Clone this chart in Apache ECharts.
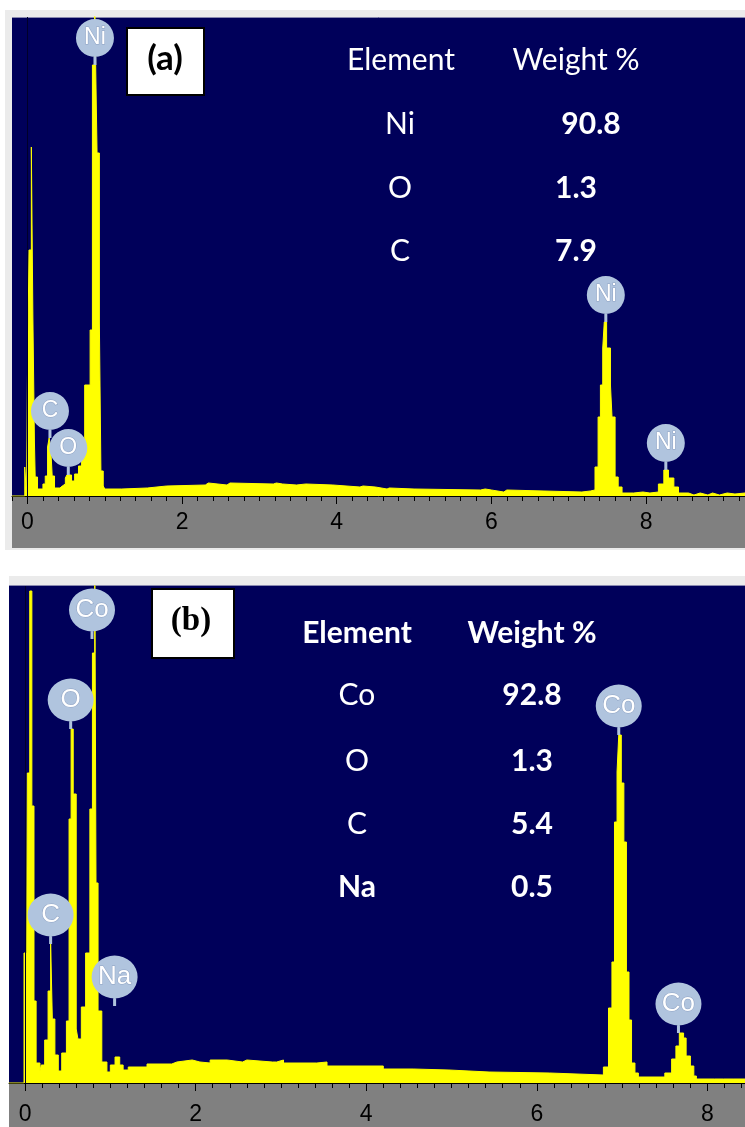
<!DOCTYPE html>
<html>
<head>
<meta charset="utf-8">
<title>EDS spectra</title>
<script src="https://cdn.jsdelivr.net/npm/echarts@6/dist/echarts.min.js"></script>
<style>
  html, body { margin: 0; padding: 0; background: #ffffff; }
  #chart { width: 745px; height: 1127px; }
</style>
</head>
<body>
<div id="chart"></div>
<script>
// ---- (a) Ni sample: spectrum as step bins (bin start energy in keV, counts) ----
const energyA = [-0.20, -0.035, -0.012, 0.00, 0.02, 0.05, 0.07, 0.09, 0.10, 0.13, 0.20, 0.23, 0.26, 0.28, 0.30, 0.32, 0.35, 0.42, 0.45, 0.49, 0.51, 0.57, 0.61, 0.66, 0.70, 0.74, 0.81, 0.84, 0.867, 0.882, 0.90, 0.93, 0.95, 0.98, 1.00, 1.22, 1.55, 1.80, 2.30, 2.34, 2.58, 2.62, 3.18, 3.22, 3.30, 3.48, 3.60, 3.95, 4.30, 4.34, 4.50, 4.65, 4.68, 5.00, 5.86, 5.92, 6.00, 6.16, 6.20, 7.17, 7.28, 7.34, 7.38, 7.41, 7.44, 7.46, 7.49, 7.54, 7.56, 7.60, 7.64, 7.69, 7.84, 7.96, 8.05, 8.16, 8.23, 8.29, 8.36, 8.42, 8.55, 8.62, 8.70, 8.80, 8.86, 8.95, 9.05, 9.15];
const countsA = [0, 29, 0, 118, 246, 349, 179, 54, 19, 7, 12, 20, 49, 58, 49, 20, 8, 10, 12, 18, 21, 15, 22, 30, 40, 111, 166, 431, 520, 431, 343, 173, 25, 10, 7, 8, 10, 11, 13, 11, 13, 12, 13, 12, 11, 12, 11, 9, 10, 9, 7, 8, 7, 6, 7, 6, 4, 6, 4, 5, 6, 29, 79, 111, 148, 174, 148, 111, 79, 19, 9, 3, 4, 3, 4, 12, 26, 18, 9, 3, 1, 3, 1, 3, 1, 3, 2, 3];

// ---- (b) Co sample ----
const energyB = [-0.19, -0.012, 0.015, 0.027, 0.055, 0.08, 0.105, 0.13, 0.175, 0.19, 0.23, 0.27, 0.30, 0.32, 0.35, 0.39, 0.43, 0.485, 0.516, 0.54, 0.565, 0.60, 0.62, 0.66, 0.71, 0.76, 0.79, 0.817, 0.832, 0.856, 0.90, 0.96, 1.00, 1.055, 1.11, 1.15, 1.21, 1.43, 1.72, 1.78, 1.96, 2.05, 2.17, 2.37, 2.55, 2.60, 2.90, 2.95, 3.03, 3.42, 3.54, 4.20, 4.55, 4.97, 5.44, 6.15, 6.78, 6.84, 6.88, 6.91, 6.94, 6.96, 6.99, 7.02, 7.05, 7.08, 7.11, 7.15, 7.19, 7.50, 7.58, 7.63, 7.67, 7.72, 7.75, 7.80, 7.84, 7.87, 8.08, 8.10, 8.19, 8.21, 8.30, 8.32];
const countsB = [0, 130, 0, 310, 492, 277, 82, 20, 12, 18, 43, 92, 139, 64, 28, 12, 30, 62, 264, 354, 289, 54, 44, 76, 130, 274, 430, 540, 200, 72, 21, 11, 18, 26, 18, 13, 16, 19, 21, 23, 21, 20, 23, 21, 23, 21, 21, 23, 20, 21, 17, 14, 13, 11, 10, 8, 16, 75, 121, 261, 311, 348, 300, 241, 111, 63, 20, 10, 6, 10, 24, 37, 50, 45, 27, 17, 7, 4, 6, 4, 6, 4, 6, 4];

// ---- peak identification markers ----
const peakNamesA = ['Ni', 'C', 'O', 'Ni', 'Ni'];
const peakEnergyA = [0.873, 0.291, 0.528, 7.48, 8.256];
const peakHeightA = [431, 58, 21, 174, 26];

const peakNamesB = ['Co', 'O', 'C', 'Na', 'Co', 'Co'];
const peakEnergyB = [0.785, 0.535, 0.30, 1.05, 6.96, 7.66];
const peakHeightB = [444, 354, 139, 77, 348, 50];

// ---- axis ticks ----
const majorTicks = [0, 2, 4, 6, 8];
const minorTicksA = [];
for (let v = -0.2; v <= 9.2001; v += 0.2) minorTicksA.push(+v.toFixed(1));
const minorTicksB = [];
for (let v = 0; v <= 8.4001; v += 0.2) minorTicksB.push(+v.toFixed(1));

// ---- quantification tables ----
const tableElementsA = ['Ni', 'O', 'C'];
const tableWeightsA = ['90.8', '1.3', '7.9'];
const tableElementsB = ['Co', 'O', 'C', 'Na'];
const tableWeightsB = ['92.8', '1.3', '5.4', '0.5'];

const NAVY = '#00005a';
const YELLOW = '#ffff00';
const PIN = '#b0c4de';

function steps(energy, counts, end) {
  const pts = energy.map((e, i) => [e, counts[i]]);
  pts.push([end, counts[counts.length - 1]]);
  return pts;
}

// circle badge with a short stem; stem tip sits on the data point
const pinA = 'path://M0,19A19,19,0,1,1,38,19A19,19,0,1,1,0,19ZM17.5,34L20.5,34L20.5,46L17.5,46Z';
const pinB = 'path://M0,21.5A23,21.5,0,1,1,46,21.5A23,21.5,0,1,1,0,21.5ZM21.5,38L24.5,38L24.5,50.5L21.5,50.5Z';

function spectrum(idx, data) {
  return {
    type: 'line', xAxisIndex: idx * 2 + 1, yAxisIndex: idx,
    data: data, step: 'end', symbol: 'none', z: 3,
    lineStyle: { color: YELLOW, width: 1 },
    areaStyle: { color: YELLOW, opacity: 1 },
    markLine: {
      silent: true, symbol: 'none', animation: false,
      label: { show: false },
      lineStyle: { color: '#00002a', width: 1, type: 'solid' },
      data: [{ xAxis: 0 }]
    }
  };
}

function markers(idx, names, energy, height, path, size, dy, fs) {
  return {
    type: 'scatter', xAxisIndex: idx * 2 + 1, yAxisIndex: idx, z: 6,
    symbol: path, symbolSize: size, symbolKeepAspect: false,
    symbolOffset: [0, '-50%'],
    itemStyle: { color: PIN, opacity: 1 },
    label: {
      show: true, position: 'inside', offset: [0, dy],
      formatter: p => p.name, color: '#ffffff',
      fontFamily: 'Liberation Sans', fontSize: fs,
      textBorderColor: 'rgba(110,130,170,0.5)', textBorderWidth: 1
    },
    data: names.map((n, i) => ({ name: n, value: [energy[i], height[i]] }))
  };
}

function tableText(x, y, text, bold, size) {
  return {
    type: 'text', z: 20,
    style: {
      x: x, y: y, text: text, fill: '#ffffff',
      font: (bold ? 'bold ' : '') + size + 'px Lato',
      align: 'center', verticalAlign: 'middle'
    }
  };
}

function axisPair(gridIndex, min, max, minorList, labelMargin) {
  return [
    {
      type: 'value', gridIndex: gridIndex, min: min, max: max, position: 'bottom',
      axisLine: { show: false }, splitLine: { show: false },
      axisTick: { show: true, length: 5, customValues: minorList, lineStyle: { color: '#000', width: 1 } },
      axisLabel: { show: false }
    },
    {
      type: 'value', gridIndex: gridIndex, min: min, max: max, position: 'bottom',
      axisLine: { show: true, onZero: false, lineStyle: { color: '#000', width: 1 } },
      splitLine: { show: false },
      axisTick: { show: true, length: 8, customValues: majorTicks, lineStyle: { color: '#000', width: 1 } },
      axisLabel: {
        show: true, customValues: majorTicks, color: '#000',
        fontFamily: 'Liberation Sans', fontSize: 23, margin: labelMargin
      }
    }
  ];
}

const TF = 30; // table font size

const graphics = [
  // panel (a) frame, plot field and axis strip
  { type: 'rect', z: -5, shape: { x: 5, y: 10, width: 740, height: 540 }, style: { fill: '#ebebeb' } },
  { type: 'rect', z: -4, shape: { x: 12, y: 17, width: 733, height: 479 }, style: { fill: NAVY } },
  { type: 'rect', z: -4, shape: { x: 12, y: 496, width: 733, height: 52 }, style: { fill: '#808080' } },
  { type: 'line', z: -3, shape: { x1: 12, y1: 17.5, x2: 745, y2: 17.5 }, style: { stroke: '#8a8ab0', lineWidth: 1 } },
  // panel (b)
  { type: 'rect', z: -5, shape: { x: 9, y: 576, width: 736, height: 10 }, style: { fill: '#ebebeb' } },
  { type: 'rect', z: -4, shape: { x: 9, y: 586, width: 736, height: 497 }, style: { fill: NAVY } },
  { type: 'rect', z: -4, shape: { x: 9, y: 1083, width: 736, height: 44 }, style: { fill: '#808080' } },
  { type: 'line', z: -3, shape: { x1: 9, y1: 585.5, x2: 745, y2: 585.5 }, style: { stroke: '#8a8ab0', lineWidth: 1 } },
  // panel tags
  { type: 'rect', z: 20, shape: { x: 127, y: 28, width: 77, height: 67 }, style: { fill: '#ffffff', stroke: '#000000', lineWidth: 2 } },
  { type: 'text', z: 21, style: { x: 165, y: 59, text: '(a)', fill: '#000', font: 'bold 35px Lato', align: 'center', verticalAlign: 'middle' } },
  { type: 'rect', z: 20, shape: { x: 152, y: 589, width: 82, height: 69 }, style: { fill: '#ffffff', stroke: '#000000', lineWidth: 2 } },
  { type: 'text', z: 21, style: { x: 191, y: 621, text: '(b)', fill: '#000', font: 'bold 33px "Liberation Serif"', align: 'center', verticalAlign: 'middle' } },
  // tables
  tableText(401, 60, 'Element', false, TF),
  tableText(576, 60, 'Weight %', false, TF),
  tableText(357, 633, 'Element', true, TF),
  tableText(532, 633, 'Weight %', true, TF)
];
const rowsA = [124, 188, 251];
tableElementsA.forEach((el, i) => {
  graphics.push(tableText(400, rowsA[i], el, false, TF));
  graphics.push(tableText(i === 0 ? 591 : 576, rowsA[i], tableWeightsA[i], true, TF));
});
const rowsB = [695, 761, 824, 887];
tableElementsB.forEach((el, i) => {
  graphics.push(tableText(357, rowsB[i], el, el === 'Na', TF));
  graphics.push(tableText(532, rowsB[i], tableWeightsB[i], true, TF));
});

const chart = echarts.init(document.getElementById('chart'), null, { renderer: 'canvas' });
chart.setOption({
  animation: false,
  backgroundColor: '#ffffff',
  grid: [
    { left: 12, top: 17, width: 733, height: 479, containLabel: false },
    { left: 9, top: 586, width: 736, height: 497, containLabel: false }
  ],
  xAxis: [
    ...axisPair(0, -0.2, 9.28, minorTicksA, 15),
    ...axisPair(1, -0.188, 8.44, minorTicksB, 20)
  ],
  yAxis: [
    { type: 'value', gridIndex: 0, min: 0, max: 479, show: false },
    { type: 'value', gridIndex: 1, min: 0, max: 497, show: false }
  ],
  graphic: { elements: graphics },
  series: [
    spectrum(0, steps(energyA, countsA, 9.28)),
    spectrum(1, steps(energyB, countsB, 8.44)),
    markers(0, peakNamesA, peakEnergyA, peakHeightA, pinA, [38, 46], -4, 23),
    markers(1, peakNamesB, peakEnergyB, peakHeightB, pinB, [46, 50.5], -4, 26)
  ]
});
</script>
</body>
</html>
